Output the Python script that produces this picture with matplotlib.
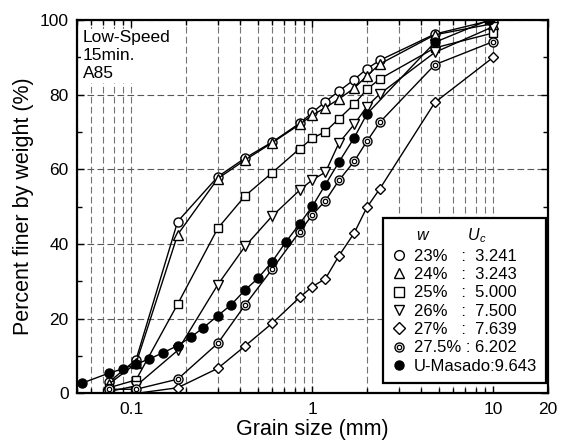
import numpy as np
import matplotlib
matplotlib.use("Agg")
import matplotlib.pyplot as plt
from matplotlib.lines import Line2D
from matplotlib.legend_handler import HandlerTuple
from matplotlib.ticker import LogLocator, FixedLocator, NullFormatter

plt.rcParams["font.family"] = ["Liberation Sans", "DejaVu Sans"]
plt.rcParams["mathtext.fontset"] = "custom"
plt.rcParams["mathtext.it"] = "Liberation Sans:italic"
plt.rcParams["mathtext.rm"] = "Liberation Sans"

# sieve sizes (mm) used for the water-content series
sieve = [0.075, 0.106, 0.18, 0.3, 0.425, 0.6, 0.85, 1.0, 1.18, 1.4, 1.7, 2.0, 2.36, 4.75, 10.0]
w23 = [3.0, 9.0, 46.0, 58.0, 63.0, 67.3, 72.3, 75.2, 78.1, 80.9, 84.0, 86.9, 89.2, 96.2, 100.0]
w24 = [2.5, 8.0, 42.5, 57.5, 62.5, 67.1, 72.0, 74.5, 76.5, 78.8, 81.7, 85.0, 88.2, 96.0, 99.0]
w25 = [1.5, 3.6, 23.9, 44.2, 52.9, 59.1, 65.5, 68.3, 70.1, 73.5, 77.4, 81.4, 84.2, 92.5, 96.5]
w26 = [0.5, 2.0, 11.5, 29.1, 39.4, 47.5, 54.4, 57.2, 59.2, 67.0, 72.0, 76.8, 80.2, 91.3, 98.2]
w27 = [0.0, 0.0, 1.5, 6.7, 12.7, 18.8, 25.7, 28.6, 30.7, 36.8, 42.9, 49.8, 54.8, 77.9, 90.0]
w275 = [1.1, 1.1, 3.8, 13.4, 23.7, 33.3, 43.3, 47.8, 51.6, 57.0, 62.1, 67.5, 72.6, 88.0, 94.2]

# original U-Masado
masado_size = [0.053, 0.075, 0.09, 0.106, 0.125, 0.15, 0.18, 0.212, 0.25, 0.3, 0.355,
               0.425, 0.5, 0.6, 0.71, 0.85, 1.0, 1.18, 1.4, 1.7, 2.0, 4.75, 9.5]
masado = [2.7, 5.4, 6.6, 7.8, 9.2, 10.9, 12.8, 15.0, 17.6, 20.8, 23.7,
          27.7, 30.8, 35.3, 40.4, 45.4, 50.1, 55.9, 61.9, 68.4, 74.8, 94.0, 100.0]

labels = ["23%   :  3.241", "24%   :  3.243", "25%   :  5.000",
          "26%   :  7.500", "27%   :  7.639", "27.5% : 6.202", "U-Masado:9.643"]

fig = plt.figure(figsize=(5.66, 4.41), dpi=100)
ax = fig.add_axes([0.136, 0.108, 0.832, 0.847])

ms = 6.5
style = dict(color="black", lw=1.0, mfc="white", mec="black", mew=1.0, ms=ms)
series = [(w23, "o"), (w24, "^"), (w25, "s"), (w26, "v"), (w27, "D")]
handles = []
for vals, mk in series:
    m = 5.5 if mk == "D" else (6 if mk == "s" else ms)
    ax.plot(sieve, vals, marker=mk, **{**style, "ms": m})
    handles.append(Line2D([], [], ls="none", marker=mk, mfc="white", mec="black", mew=1.0, ms=m + 0.5))

# double circle series
ax.plot(sieve, w275, marker="o", **style)
ax.plot(sieve, w275, ls="none", marker="o", mfc="white", mec="black", mew=0.9, ms=3.2)
h_out = Line2D([], [], ls="none", marker="o", mfc="white", mec="black", mew=1.0, ms=ms)
h_in = Line2D([], [], ls="none", marker="o", mfc="white", mec="black", mew=0.9, ms=3.2)
handles.append((h_out, h_in))

ax.plot(masado_size, masado, marker="o", color="black", lw=1.0, mfc="black", mec="black", ms=6.5)
handles.append(Line2D([], [], ls="none", marker="o", color="black", ms=6.5))

ax.set_xscale("log")
ax.set_xlim(0.05, 20)
ax.set_ylim(0, 100)
ax.xaxis.set_major_locator(FixedLocator([0.1, 1, 10, 20]))
ax.set_xticklabels(["0.1", "1", "10", "20"])
ax.xaxis.set_minor_locator(LogLocator(base=10, subs=np.arange(2, 10)))
ax.xaxis.set_minor_formatter(NullFormatter())
ax.set_yticks([0, 20, 40, 60, 80, 100])
ax.set_yticks([10, 30, 50, 70, 90], minor=True)

ax.tick_params(which="both", direction="in", top=True, right=True, labelsize=12.5, width=1.0, pad=6)
ax.tick_params(which="major", length=5)
ax.tick_params(which="minor", length=3.5)

# grid: vertical at every log position, horizontal at 20 steps
ax.grid(True, which="major", axis="y", color="0.35", ls=(0, (6, 3)), lw=0.8)
ax.grid(True, which="both", axis="x", color="0.45", ls=(0, (6, 3)), lw=0.8)
ax.set_axisbelow(True)

for sp in ax.spines.values():
    sp.set_linewidth(1.6)

ax.set_xlabel("Grain size (mm)", fontsize=15.5, labelpad=2)
ax.set_ylabel("Percent finer by weight (%)", fontsize=15.5, labelpad=4)

ax.text(0.012, 0.972, "Low-Speed\n15min.\nA85", transform=ax.transAxes,
        ha="left", va="top", fontsize=12.5, linespacing=1.25,
        bbox=dict(fc="white", ec="none", pad=1))

leg = ax.legend(handles, labels, loc="lower right", bbox_to_anchor=(0.996, 0.028),
                borderaxespad=0, fontsize=12, frameon=True, fancybox=False,
                edgecolor="black", framealpha=1, handlelength=0.8, handletextpad=0.5,
                labelspacing=0.2, borderpad=0.55,
                title=r"$w$" + " " * 9 + r"$U_c$", title_fontsize=11.5,
                handler_map={tuple: HandlerTuple(ndivide=1, pad=0)})
leg.get_frame().set_linewidth(1.6)
leg._legend_box.align = "left"
leg.get_title().set_position((24, 0))

fig.savefig("out.png", dpi=100)
